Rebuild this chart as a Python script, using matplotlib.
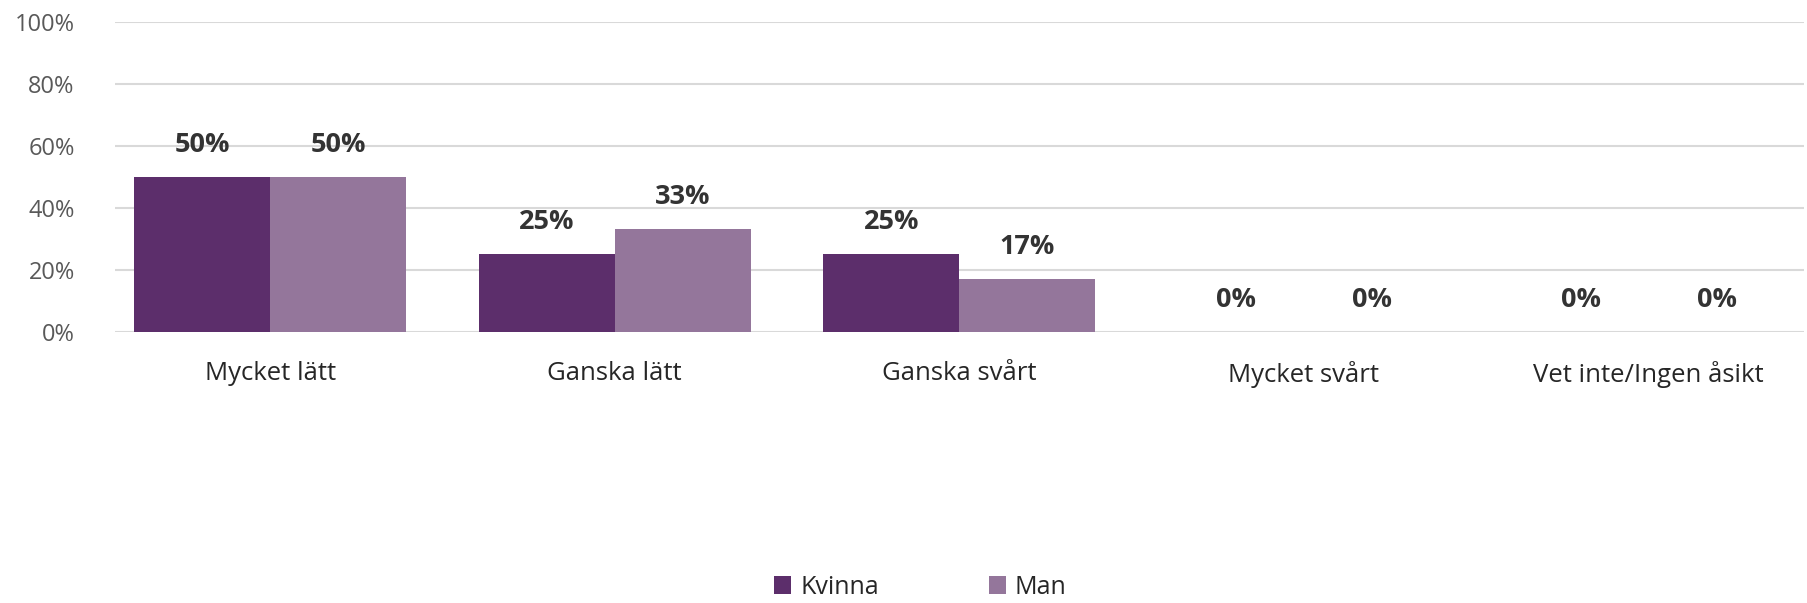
import matplotlib
matplotlib.use("Agg")
import matplotlib.pyplot as plt
import numpy as np
from matplotlib.ticker import PercentFormatter

categories = ["Mycket lätt", "Ganska lätt", "Ganska svårt", "Mycket svårt", "Vet inte/Ingen åsikt"]
kvinna = [0.50, 0.25, 0.25, 0.0, 0.0]
man = [0.50, 0.33, 0.17, 0.0, 0.0]
series_names = ["Kvinna", "Man"]
colors = ["#5C2E6B", "#94769B"]

plt.rcParams['font.family'] = ['Open Sans', 'DejaVu Sans']

fig = plt.figure(figsize=(18.08, 6.03), dpi=100)
ax = fig.add_axes([0.0636, 0.450, 0.934, 0.514])

x = np.arange(len(categories))
w = 0.395
for vals, off, c, name in zip([kvinna, man], [-w/2, w/2], colors, series_names):
    bars = ax.bar(x + off, vals, width=w, color=c, label=name, zorder=3)
    for xi, v in zip(x + off, vals):
        ax.annotate(f"{round(v*100):d}%", (xi, v), xytext=(0, 23), textcoords="offset points",
                    ha="center", va="center", fontsize=19.5, fontweight="bold", color="#333333")

ax.set_xlim(-0.45, 4.45)
ax.set_ylim(0, 1.0)
ax.set_yticks(np.arange(0, 1.01, 0.2))
ax.yaxis.set_major_formatter(PercentFormatter(1.0, decimals=0))
ax.set_xticks(x)
ax.set_xticklabels(categories, fontsize=18.5, color="#262626")
ax.tick_params(axis='x', length=0, pad=21)
ax.tick_params(axis='y', length=0, labelsize=17, labelcolor="#595959", pad=29)
ax.grid(axis='y', color="#D9D9D9", linewidth=1.5, zorder=0)
for s in ax.spines.values():
    s.set_visible(False)

fig.legend(loc="center", bbox_to_anchor=(0.509, 0.026), ncol=2, frameon=False,
           fontsize=18, handlelength=0.7, handleheight=0.7, handletextpad=0.35,
           columnspacing=4.4, labelcolor="#262626")

fig.savefig("out.png", dpi=100, facecolor="white")
